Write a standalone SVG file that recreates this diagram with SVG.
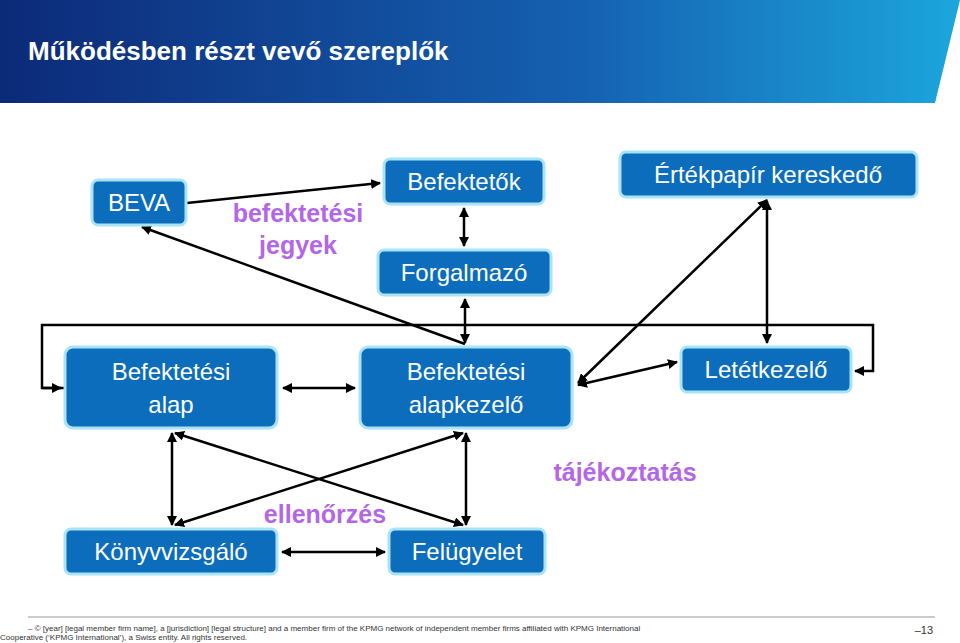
<svg xmlns="http://www.w3.org/2000/svg" width="960" height="643" viewBox="0 0 960 643">
<style>
.n{fill:#0b6dbb;stroke:#a8e4f4;stroke-width:3}
.t{fill:#fff;font-family:"Liberation Sans",Arial,sans-serif;font-size:24px;text-anchor:middle}
.l{fill:#b366e6;font-family:"Liberation Sans",Arial,sans-serif;font-size:25px;font-weight:bold;text-anchor:middle}
.c line,.c path{stroke:#000;stroke-width:2.5;fill:none}
.f{font-family:"Liberation Sans",Arial,sans-serif;font-size:8px;fill:#333}
</style>
<defs>
<linearGradient id="g" x1="0" x2="1"><stop offset="0" stop-color="#0c2a78"/><stop offset="0.6" stop-color="#1560b0"/><stop offset="1" stop-color="#1ca6dc"/></linearGradient>
<marker id="a" viewBox="0 0 10 10" refX="9" refY="5" markerWidth="4" markerHeight="4" orient="auto-start-reverse"><path d="M0,0 L10,5 L0,10 z" fill="#000"/></marker>
</defs>
<rect width="960" height="643" fill="#fff"/>
<polygon points="0,0 960,0 935,103 0,103" fill="url(#g)"/>
<text x="28" y="60" font-family="Liberation Sans,Arial,sans-serif" font-size="26" font-weight="bold" fill="#fff">Működésben részt vevő szereplők</text>
<g class="c">
<line x1="187" y1="203" x2="380" y2="183" marker-end="url(#a)"/>
<line x1="465" y1="344" x2="142" y2="227" marker-end="url(#a)"/>
<line x1="464" y1="208" x2="464" y2="246" marker-start="url(#a)" marker-end="url(#a)"/>
<line x1="465" y1="299" x2="465" y2="343" marker-start="url(#a)" marker-end="url(#a)"/>
<path d="M65,388 H42 V325 H873 V371 H855" marker-end="url(#a)"/>
<line x1="42" y1="388" x2="61" y2="388" marker-end="url(#a)"/>
<line x1="283" y1="388" x2="355" y2="388" marker-start="url(#a)" marker-end="url(#a)"/>
<line x1="578" y1="385" x2="677" y2="362" marker-start="url(#a)" marker-end="url(#a)"/>
<line x1="578" y1="383" x2="767" y2="200" marker-start="url(#a)" marker-end="url(#a)"/>
<line x1="767" y1="201" x2="767" y2="343" marker-start="url(#a)" marker-end="url(#a)"/>
<line x1="172" y1="433" x2="172" y2="525" marker-start="url(#a)" marker-end="url(#a)"/>
<line x1="466" y1="433" x2="466" y2="525" marker-start="url(#a)" marker-end="url(#a)"/>
<line x1="463" y1="433" x2="175" y2="525" marker-start="url(#a)" marker-end="url(#a)"/>
<line x1="175" y1="433" x2="463" y2="525" marker-start="url(#a)" marker-end="url(#a)"/>
<line x1="282" y1="552" x2="385" y2="552" marker-start="url(#a)" marker-end="url(#a)"/>
</g>
<g id="beva"><rect class="n" x="92" y="180" width="94" height="45" rx="6"/><text class="t" x="139" y="211">BEVA</text></g>
<g id="befektetok"><rect class="n" x="384" y="159" width="160" height="45" rx="6"/><text class="t" x="464" y="190">Befektetők</text></g>
<g id="forgalmazo"><rect class="n" x="378" y="250" width="173" height="45" rx="6"/><text class="t" x="464" y="281">Forgalmazó</text></g>
<g id="ertekpapir"><rect class="n" x="620" y="152" width="297" height="45" rx="6"/><text class="t" x="768" y="183">Értékpapír kereskedő</text></g>
<g id="alap"><rect class="n" x="65" y="347" width="212" height="81" rx="8"/><text class="t" x="171" y="380">Befektetési</text><text class="t" x="171" y="413">alap</text></g>
<g id="alapkezelo"><rect class="n" x="360" y="347" width="212" height="81" rx="8"/><text class="t" x="466" y="380">Befektetési</text><text class="t" x="466" y="413">alapkezelő</text></g>
<g id="letetkezelo"><rect class="n" x="681" y="347" width="170" height="45" rx="6"/><text class="t" x="766" y="378">Letétkezelő</text></g>
<g id="konyvvizsgalo"><rect class="n" x="65" y="529" width="212" height="45" rx="6"/><text class="t" x="171" y="560">Könyvvizsgáló</text></g>
<g id="felugyelet"><rect class="n" x="389" y="529" width="156" height="45" rx="6"/><text class="t" x="467" y="560">Felügyelet</text></g>
<text class="l" x="298" y="222">befektetési</text>
<text class="l" x="298" y="254">jegyek</text>
<text class="l" x="325" y="523">ellenőrzés</text>
<text class="l" x="625" y="481">tájékoztatás</text>
<line x1="28" y1="617" x2="935" y2="617" stroke="#999" stroke-width="1"/>
<text class="f" x="28" y="631">– © [year] [legal member firm name], a [jurisdiction] [legal structure] and a member firm of the KPMG network of independent member firms affiliated with KPMG International</text>
<text class="f" x="0" y="640">Cooperative (‘KPMG International’), a Swiss entity. All rights reserved.</text>
<text x="933" y="634" font-family="Liberation Sans,Arial,sans-serif" font-size="11" fill="#333" text-anchor="end">–13</text>
</svg>
